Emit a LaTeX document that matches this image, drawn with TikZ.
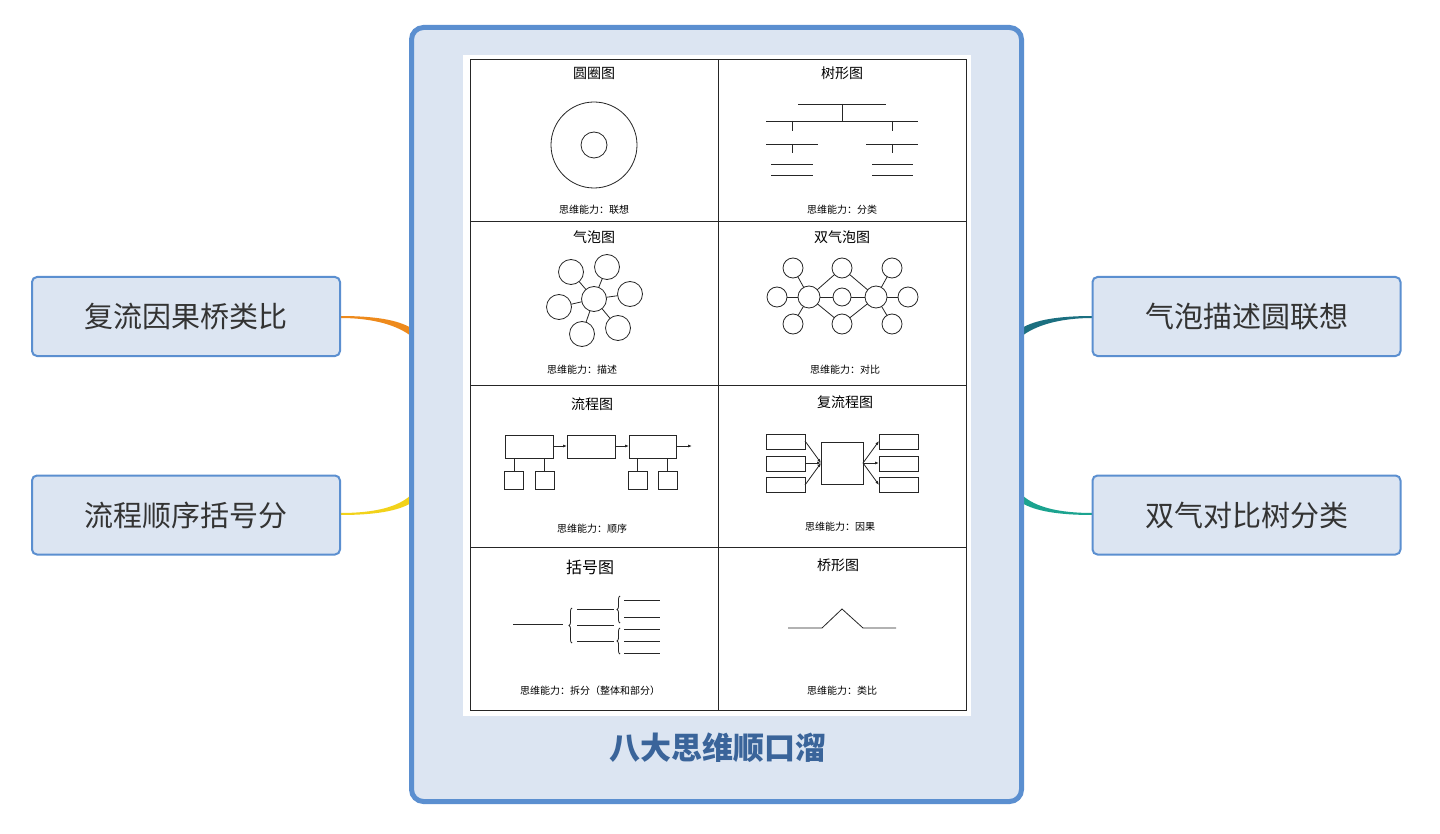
\documentclass[tikz,border=0pt]{standalone}
\usepackage{fontspec}
\setmainfont{Noto Sans CJK SC}
\usetikzlibrary{arrows.meta,decorations.pathreplacing}
\definecolor{mainblue}{HTML}{5B8FD0}
\definecolor{mainfill}{HTML}{DCE5F2}
\definecolor{titleblue}{HTML}{3A649A}
\definecolor{txt}{HTML}{333333}
\definecolor{corange}{HTML}{EE8A1C}
\definecolor{cyellow}{HTML}{F2D21A}
\definecolor{cteal}{HTML}{1B6F80}
\definecolor{cgreen}{HTML}{1BA38F}
\begin{document}
\begin{tikzpicture}[x=1pt,y=-1pt,
  side/.style={draw=mainblue,line width=2pt,fill=mainfill,rounded corners=5pt,minimum width=308pt,minimum height=79pt,font=\fontsize{29}{32}\selectfont,text=txt},
  ln/.style={line width=0.8pt,black!85},
  ttl/.style={font=\fontsize{14}{16}\selectfont},
  capt/.style={font=\fontsize{10}{12}\selectfont},
  bub/.style={ln,fill=white}]
\useasboundingbox (0,0) rectangle (1440,834);
\fill[white] (0,0) rectangle (1440,834);
% connectors
\fill[corange] (340,316) .. controls (375,316) and (398,320) .. (411,328) -- (411,336) .. controls (398,326) and (375,318) .. (340,318) -- cycle;
\fill[cyellow] (340,513) .. controls (375,513) and (398,507) .. (411,495) -- (411,503) .. controls (398,511) and (375,515) .. (340,515) -- cycle;
\fill[cteal] (1093,316) .. controls (1058,316) and (1035,320) .. (1022,328) -- (1022,336) .. controls (1035,326) and (1058,318) .. (1093,318) -- cycle;
\fill[cgreen] (1093,513) .. controls (1058,513) and (1035,507) .. (1022,495) -- (1022,503) .. controls (1035,511) and (1058,515) .. (1093,515) -- cycle;
% main box
\node[draw=mainblue,line width=5pt,fill=mainfill,rounded corners=12pt,minimum width=610pt,minimum height=774pt] (main) at (716.5,414.5) {};
\node[font=\fontsize{31}{34}\selectfont\bfseries,text=titleblue] (title) at (718,748) {八大思维顺口溜};
% side boxes
\node[side] (l1) at (186,316.5) {复流因果桥类比};
\node[side] (l2) at (186,515) {流程顺序括号分};
\node[side] (r1) at (1246.5,316.5) {气泡描述圆联想};
\node[side] (r2) at (1246.5,515) {双气对比树分类};
% image
\fill[white] (463,55) rectangle (971,716);
\draw[ln,line width=1pt] (470,60) rectangle (966,710);
\draw[ln,line width=1pt] (718,60) -- (718,710) (470,222) -- (966,222) (470,385) -- (966,385) (470,547) -- (966,547);
% circle map
\node[ttl] at (594,73) {圆圈图};
\draw[ln] (594,145) circle (43) (594,145) circle (13);
\node[capt] at (594,210) {思维能力：联想};
% tree
\node[ttl] at (842,73) {树形图};
\draw[ln] (798,104) -- (886,104) (842,104) -- (842,121) (766,121) -- (918,121)
 (792,121) -- (792,131) (892,121) -- (892,131)
 (766,144) -- (818,144) (792,144) -- (792,153) (866,144) -- (918,144) (892,144) -- (892,153)
 (771,164) -- (813,164) (771,175) -- (813,175) (872,164) -- (913,164) (872,175) -- (913,175);
\node[capt] at (842,210) {思维能力：分类};
% bubble
\node[ttl] at (594,237) {气泡图};
\foreach \p in {(571,272),(607,267),(630,294),(559,307),(582,334),(618,328)} \draw[ln] (594,299) -- \p;
\foreach \p in {(571,272),(607,267),(630,294),(559,307),(582,334),(618,328)} \draw[bub] \p circle (12.5);
\draw[bub] (594,299) circle (12.5);
\node[capt] at (582,370) {思维能力：描述};
% double bubble
\node[ttl] at (842,237) {双气泡图};
\foreach \p in {(793,268),(777,297),(793,324),(842,268),(842,297),(842,324)} \draw[ln] (809,297) -- \p;
\foreach \p in {(892,268),(908,297),(892,324),(842,268),(842,297),(842,324)} \draw[ln] (876,297) -- \p;
\foreach \p in {(793,268),(777,297),(793,324),(842,268),(842,324),(892,268),(908,297),(892,324)} \draw[bub] \p circle (10);
\draw[bub] (842,297) circle (9);
\draw[bub] (809,297) circle (11) (876,297) circle (11);
\node[capt] at (845,370) {思维能力：对比};
% flow
\node[ttl] at (592,404) {流程图};
\draw[ln] (505,435) rectangle (553,458) (567,435) rectangle (615,458) (629,435) rectangle (676,458)
 (504,471) rectangle (523,489) (535,471) rectangle (554,489) (628,471) rectangle (647,489) (658,471) rectangle (677,489)
 (514,458) -- (514,471) (544,458) -- (544,471) (637,458) -- (637,471) (667,458) -- (667,471);
\draw[ln,-{Latex[length=4pt,width=3pt]}] (553,446) -- (567,446);
\draw[ln,-{Latex[length=4pt,width=3pt]}] (615,446) -- (629,446);
\draw[ln,-{Latex[length=4pt,width=3pt]}] (676,446) -- (692,446);
\node[capt] at (592,529) {思维能力：顺序};
% multi flow
\node[ttl] at (845,402) {复流程图};
\draw[ln] (766,434) rectangle (805,449) (766,456) rectangle (805,471) (766,477) rectangle (805,492)
 (821,442) rectangle (863,484)
 (879,434) rectangle (918,449) (879,456) rectangle (918,471) (879,477) rectangle (918,492);
\foreach \y in {441,463,485} {
 \draw[ln,-{Latex[length=4pt,width=3pt]}] (805,\y) -- (821,463);
 \draw[ln,-{Latex[length=4pt,width=3pt]}] (863,463) -- (879,\y);}
\node[capt] at (840,527) {思维能力：因果};
% brace map
\node[ttl,font=\fontsize{16}{18}\selectfont] at (590,567) {括号图};
\draw[ln] (513,624) -- (563,624);
\draw[ln,decorate,decoration={brace,amplitude=3pt,mirror}] (572,608) -- (572,643);
\draw[ln] (577,609) -- (614,609) (577,625) -- (614,625) (577,641) -- (614,641);
\draw[ln,decorate,decoration={brace,amplitude=3pt,mirror}] (620,596) -- (620,623);
\draw[ln,decorate,decoration={brace,amplitude=3pt,mirror}] (620,628) -- (620,654);
\draw[ln] (624,600) -- (660,600) (624,617) -- (660,617) (624,629) -- (660,629) (624,641) -- (660,641) (624,653) -- (660,653);
\node[capt] at (590,691) {思维能力：拆分（整体和部分）};
% bridge
\node[ttl] at (838,565) {桥形图};
\draw[ln] (788,628) -- (822,628) -- (842,609) -- (863,628) -- (896,628);
\node[capt] at (842,691) {思维能力：类比};
\end{tikzpicture}
\end{document}
